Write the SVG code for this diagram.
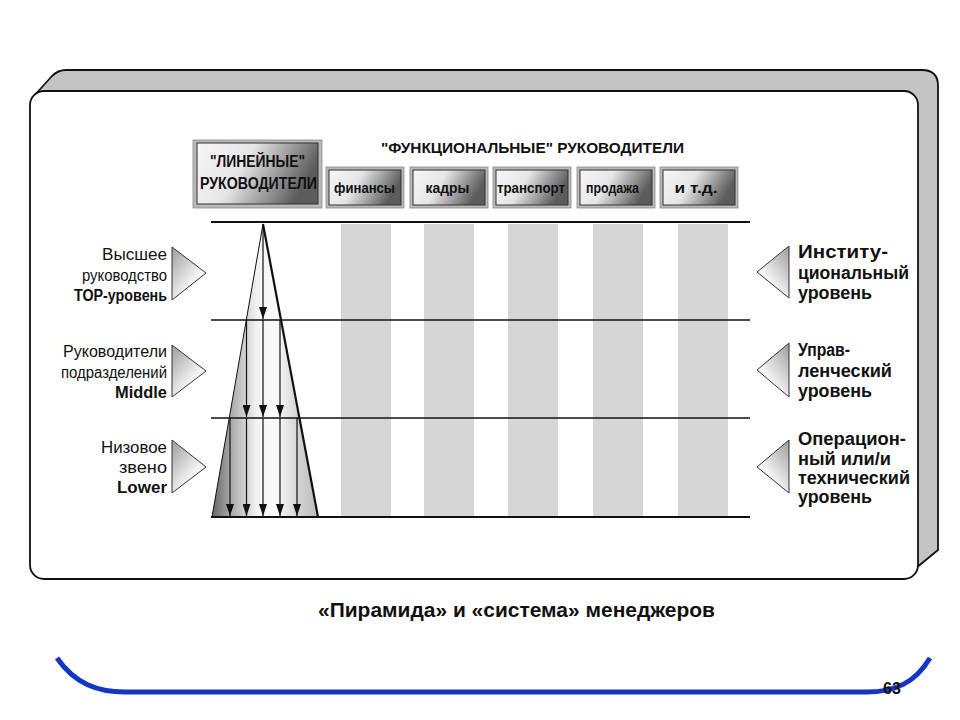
<svg xmlns="http://www.w3.org/2000/svg" width="960" height="720" viewBox="0 0 960 720">
<defs>
<style>
.t{font-family:"Liberation Sans",Arial,sans-serif;fill:#111}
.b{font-weight:bold}
.lbl{font-size:16px}
.rl{font-size:17.5px;font-weight:bold}
.hb{font-size:16px;font-weight:bold}
.sb{font-size:14.5px;font-weight:bold}
.frame{fill:#b9b9b9;stroke:#8a8a8a;stroke-width:0.8}
.inner{fill:url(#boxg);stroke:#333;stroke-width:1}
.hl{stroke:#111;fill:none}
.band{fill:#d6d6d6}
.arr{stroke:#111;stroke-width:1.2;marker-end:url(#ah)}
.ltri{fill:url(#ltg);stroke:#333;stroke-width:1}
.rtri{fill:url(#rtg);stroke:#333;stroke-width:1}
</style>
<linearGradient id="boxg" x1="0" y1="0" x2="1" y2="0.3">
<stop offset="0" stop-color="#f6f6f6"/>
<stop offset="0.45" stop-color="#e6e6e6"/>
<stop offset="1" stop-color="#5c5c5c"/>
</linearGradient>
<linearGradient id="ltg" x1="0" y1="0" x2="0.8" y2="1">
<stop offset="0" stop-color="#9c9c9c"/>
<stop offset="0.7" stop-color="#f4f4f4"/>
<stop offset="1" stop-color="#ffffff"/>
</linearGradient>
<linearGradient id="rtg" x1="1" y1="0" x2="0.2" y2="1">
<stop offset="0" stop-color="#9c9c9c"/>
<stop offset="0.7" stop-color="#f4f4f4"/>
<stop offset="1" stop-color="#ffffff"/>
</linearGradient>
<linearGradient id="pyg" gradientUnits="userSpaceOnUse" x1="212" y1="0" x2="318" y2="0">
<stop offset="0" stop-color="#666"/>
<stop offset="0.18" stop-color="#aaa"/>
<stop offset="0.42" stop-color="#f2f2f2"/>
<stop offset="0.6" stop-color="#fbfbfb"/>
<stop offset="0.82" stop-color="#d2d2d2"/>
<stop offset="1" stop-color="#bcbcbc"/>
</linearGradient>
<marker id="ah" markerUnits="userSpaceOnUse" markerWidth="12" markerHeight="8" refX="12" refY="4" orient="auto">
<path d="M0,0 L12,4 L0,8 Z" fill="#111"/>
</marker>
</defs>
<rect width="960" height="720" fill="#fff"/>

<g id="panel">
<path d="M33,97 L52,76 Q58,70 66,70 L922,70 Q938,70 938,86 L938,550 L916,568 L900,560 L60,100 Z" fill="#c4c4c4"/>
<path d="M33,97 L52,76 Q58,70 66,70 L922,70 Q938,70 938,86 L938,550 L916,568" fill="none" stroke="#111" stroke-width="1.8"/>
<rect x="30" y="91" width="888" height="488" rx="14" fill="#fff" stroke="#111" stroke-width="1.8"/>
</g>

<g id="bands">
<rect class="band" x="341" y="224" width="50" height="292"/>
<rect class="band" x="424" y="224" width="50" height="292"/>
<rect class="band" x="508" y="224" width="50" height="292"/>
<rect class="band" x="593" y="224" width="50" height="292"/>
<rect class="band" x="678" y="224" width="50" height="292"/>
</g>

<g id="pyramid">
<polygon points="263,224 318,517 212,517" fill="url(#pyg)"/>
<line x1="263" y1="224" x2="212" y2="517" stroke="#111" stroke-width="1"/>
<line x1="263" y1="224" x2="318" y2="517" stroke="#111" stroke-width="2.2"/>
</g>

<g id="levels">
<line class="hl" x1="211" y1="222" x2="750" y2="222" stroke-width="2"/>
<line class="hl" x1="211" y1="320" x2="750" y2="320" stroke-width="1.5"/>
<line class="hl" x1="211" y1="418" x2="750" y2="418" stroke-width="1.5"/>
<line class="hl" x1="211" y1="517" x2="750" y2="517" stroke-width="2.2"/>
</g>

<g id="connectors">
<line class="arr" x1="263" y1="226" x2="263" y2="319"/>
<line class="arr" x1="246.5" y1="320" x2="246.5" y2="417"/>
<line class="arr" x1="263" y1="320" x2="263" y2="417"/>
<line class="arr" x1="280" y1="320" x2="280" y2="417"/>
<line class="arr" x1="230" y1="418" x2="230" y2="516"/>
<line class="arr" x1="246.5" y1="418" x2="246.5" y2="516"/>
<line class="arr" x1="263" y1="418" x2="263" y2="516"/>
<line class="arr" x1="280" y1="418" x2="280" y2="516"/>
<line class="arr" x1="297" y1="418" x2="297" y2="516"/>
</g>

<g id="node-line-managers">
<rect class="frame" x="193" y="140" width="129" height="68"/>
<rect class="inner" x="197" y="143" width="121" height="61"/>
<text class="t hb" x="257.5" y="167" text-anchor="middle" textLength="95" lengthAdjust="spacingAndGlyphs">"ЛИНЕЙНЫЕ"</text>
<text class="t hb" x="258.5" y="189" text-anchor="middle" textLength="117" lengthAdjust="spacingAndGlyphs">РУКОВОДИТЕЛИ</text>
</g>

<g id="node-functional-title">
<text class="t b" x="381" y="153" font-size="15.5" textLength="303" lengthAdjust="spacingAndGlyphs">"ФУНКЦИОНАЛЬНЫЕ" РУКОВОДИТЕЛИ</text>
</g>

<g id="node-finance">
<rect class="frame" x="326" y="167" width="78" height="41"/>
<rect class="inner" x="329" y="170" width="72" height="35"/>
<text class="t sb" x="364.5" y="193" text-anchor="middle" textLength="61" lengthAdjust="spacingAndGlyphs">финансы</text>
</g>
<g id="node-staff">
<rect class="frame" x="410" y="167" width="78" height="41"/>
<rect class="inner" x="413" y="170" width="72" height="35"/>
<text class="t sb" x="447.5" y="193" text-anchor="middle" textLength="44" lengthAdjust="spacingAndGlyphs">кадры</text>
</g>
<g id="node-transport">
<rect class="frame" x="493" y="167" width="78" height="41"/>
<rect class="inner" x="496" y="170" width="72" height="35"/>
<text class="t sb" x="531" y="193" text-anchor="middle" textLength="68" lengthAdjust="spacingAndGlyphs">транспорт</text>
</g>
<g id="node-sales">
<rect class="frame" x="577" y="167" width="78" height="41"/>
<rect class="inner" x="580" y="170" width="72" height="35"/>
<text class="t sb" x="612.5" y="193" text-anchor="middle" textLength="53" lengthAdjust="spacingAndGlyphs">продажа</text>
</g>
<g id="node-etc">
<rect class="frame" x="660" y="167" width="78" height="41"/>
<rect class="inner" x="663" y="170" width="72" height="35"/>
<text class="t sb" x="696" y="193" text-anchor="middle" textLength="43" lengthAdjust="spacingAndGlyphs">и т.д.</text>
</g>

<g id="node-top-left">
<polygon class="ltri" points="172,247 206,273 172,300"/>
<text class="t lbl" x="102" y="260" textLength="65" lengthAdjust="spacingAndGlyphs">Высшее</text>
<text class="t lbl" x="82" y="281" textLength="85" lengthAdjust="spacingAndGlyphs">руководство</text>
<text class="t lbl b" x="74" y="301" textLength="93" lengthAdjust="spacingAndGlyphs">TOP-уровень</text>
</g>
<g id="node-middle-left">
<polygon class="ltri" points="172,345 206,371 172,397"/>
<text class="t lbl" x="63" y="357" textLength="104" lengthAdjust="spacingAndGlyphs">Руководители</text>
<text class="t lbl" x="61" y="378" textLength="106" lengthAdjust="spacingAndGlyphs">подразделений</text>
<text class="t lbl b" x="115" y="398" textLength="52" lengthAdjust="spacingAndGlyphs">Middle</text>
</g>
<g id="node-lower-left">
<polygon class="ltri" points="172,440 206,467 172,493"/>
<text class="t lbl" x="101" y="453" textLength="66" lengthAdjust="spacingAndGlyphs">Низовое</text>
<text class="t lbl" x="119" y="473" textLength="48" lengthAdjust="spacingAndGlyphs">звено</text>
<text class="t lbl b" x="117" y="493" textLength="50" lengthAdjust="spacingAndGlyphs">Lower</text>
</g>

<g id="node-top-right">
<polygon class="rtri" points="789,246 757,272 789,298"/>
<text class="t rl" x="798" y="258" textLength="90" lengthAdjust="spacingAndGlyphs">Институ-</text>
<text class="t rl" x="798" y="279" textLength="111" lengthAdjust="spacingAndGlyphs">циональный</text>
<text class="t rl" x="798" y="299" textLength="74" lengthAdjust="spacingAndGlyphs">уровень</text>
</g>
<g id="node-middle-right">
<polygon class="rtri" points="789,343 757,370 789,397"/>
<text class="t rl" x="798" y="356" textLength="52" lengthAdjust="spacingAndGlyphs">Управ-</text>
<text class="t rl" x="798" y="377" textLength="94" lengthAdjust="spacingAndGlyphs">ленческий</text>
<text class="t rl" x="798" y="397" textLength="74" lengthAdjust="spacingAndGlyphs">уровень</text>
</g>
<g id="node-lower-right">
<polygon class="rtri" points="789,440 757,467 789,493"/>
<text class="t rl" x="798" y="445" textLength="108" lengthAdjust="spacingAndGlyphs">Операцион-</text>
<text class="t rl" x="798" y="465" textLength="93" lengthAdjust="spacingAndGlyphs">ный или/и</text>
<text class="t rl" x="798" y="484" textLength="112" lengthAdjust="spacingAndGlyphs">технический</text>
<text class="t rl" x="798" y="503" textLength="74" lengthAdjust="spacingAndGlyphs">уровень</text>
</g>

<g id="caption">
<text class="t b" x="318" y="617" font-size="20" textLength="397" lengthAdjust="spacingAndGlyphs">«Пирамида» и «система» менеджеров</text>
</g>

<g id="footer">
<path d="M57,658 C75,684 98,692 125,692 L866,692 C895,692 915,683 930,658" fill="none" stroke="#1436c4" stroke-width="5"/>
<text class="t b" x="892" y="694" font-size="16" text-anchor="middle" fill="#111">63</text>
</g>
</svg>
